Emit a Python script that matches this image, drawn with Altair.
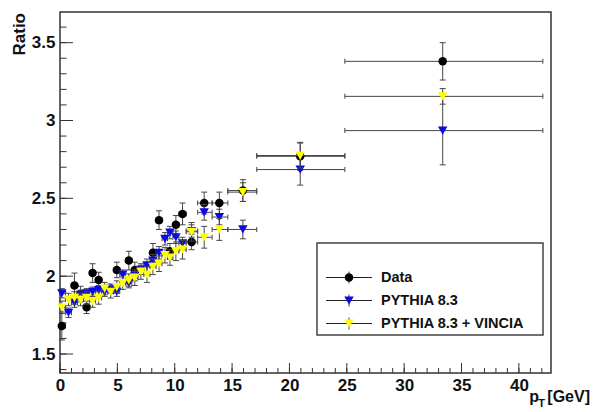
import altair as alt
import pandas as pd

# ---------------- data ----------------
pt = [0.16, 0.74, 1.26, 1.79, 2.32, 2.84, 3.37, 3.89, 4.42, 4.95, 5.47, 6.0,
      6.52, 7.05, 7.58, 8.10, 8.63, 9.15, 9.58, 10.10, 10.68, 11.47, 12.57,
      13.89, 15.94, 20.94, 33.36]
pt_lo = [0.0, 0.47, 1.0, 1.53, 2.05, 2.58, 3.10, 3.63, 4.16, 4.68, 5.21, 5.73,
         6.26, 6.79, 7.31, 7.84, 8.37, 8.89, 9.37, 9.84, 10.36, 11.0, 12.0,
         13.26, 14.63, 17.15, 24.83]
pt_hi = [0.47, 1.0, 1.53, 2.05, 2.58, 3.10, 3.63, 4.16, 4.68, 5.21, 5.73, 6.26,
         6.79, 7.31, 7.84, 8.37, 8.89, 9.37, 9.84, 10.36, 11.0, 12.0, 13.26,
         14.63, 17.15, 24.83, 42.09]

data_y = [1.68, None, 1.94, 1.885, 1.80, 2.02, 1.975, None, None, 2.04, None,
          2.10, 2.04, None, None, 2.15, 2.36, None, 2.16, 2.33, 2.40, 2.22,
          2.47, 2.47, 2.55, 2.77, 3.38]
data_err = [0.09, 0.05, 0.08, 0.05, 0.04, 0.06, 0.05, 0.05, 0.05, 0.05, 0.05,
            0.06, 0.05, 0.05, 0.05, 0.06, 0.06, 0.06, 0.05, 0.06, 0.07, 0.05,
            0.07, 0.07, 0.07, 0.09, 0.12]

py_y = [1.89, 1.765, 1.83, 1.88, 1.89, 1.90, 1.91, 1.90, 1.92, 1.90, 2.01,
        1.955, 2.00, 2.04, 2.07, 2.10, 2.15, 2.24, 2.28, 2.25, 2.21, 2.29,
        2.41, 2.38, 2.30, 2.685, 2.935]
py_err = [0.03, 0.03, 0.03, 0.03, 0.03, 0.03, 0.03, 0.03, 0.03, 0.03, 0.03,
          0.03, 0.03, 0.03, 0.04, 0.04, 0.04, 0.04, 0.04, 0.04, 0.04, 0.04,
          0.05, 0.05, 0.06, 0.10, 0.22]

vin_y = [1.80, 1.85, 1.86, 1.85, 1.86, 1.84, 1.86, 1.92, 1.90, 1.93, 1.955,
         1.975, 1.99, 2.03, 2.01, 2.06, 2.08, 2.135, 2.12, 2.16, 2.17, 2.285,
         2.25, 2.30, 2.54, 2.775, 3.155]
vin_err = [0.04, 0.04, 0.04, 0.04, 0.04, 0.04, 0.04, 0.04, 0.04, 0.04, 0.04,
           0.04, 0.05, 0.05, 0.05, 0.05, 0.05, 0.05, 0.05, 0.06, 0.06, 0.06,
           0.07, 0.07, 0.06, 0.08, 0.05]

series_names = ["Data", "PYTHIA 8.3", "PYTHIA 8.3 + VINCIA"]
series_vals = [data_y, py_y, vin_y]
series_errs = [data_err, py_err, vin_err]
series_colors = ["#000000", "#0a0ae6", "#ffff00"]
series_shapes = ["circle", "triangle-down", "triangle-down"]
series_sizes = [72, 90, 90]

x_major = [0, 5, 10, 15, 20, 25, 30, 35, 40]
x_minor = [0, 1, 2, 3, 4, 5, 6, 7, 8, 9, 10, 11, 12, 13, 14, 15, 16, 17, 18,
           19, 20, 21, 22, 23, 24, 25, 26, 27, 28, 29, 30, 31, 32, 33, 34, 35,
           36, 37, 38, 39, 40, 41, 42]
y_major = [1.5, 2.0, 2.5, 3.0, 3.5]
y_minor = [1.4, 1.5, 1.6, 1.7, 1.8, 1.9, 2.0, 2.1, 2.2, 2.3, 2.4, 2.5, 2.6,
           2.7, 2.8, 2.9, 3.0, 3.1, 3.2, 3.3, 3.4, 3.5, 3.6]

# ---------------- styling ----------------
FONT = "Liberation Sans"
FRAME = "#333333"
EB = "#474747"
W, H = 491, 361

xscale = alt.Scale(domain=[0, 42.8], nice=False, zero=False)
yscale = alt.Scale(domain=[1.378, 3.697], nice=False, zero=False)
xaxis = alt.Axis(values=x_major, title=None, ticks=False, domain=False, grid=False,
                 labelFont=FONT, labelFontSize=17, labelFontWeight="bold",
                 labelColor="#111111", labelPadding=4, labelFlush=False,
                 labelOverlap=False, format="~g")
yaxis = alt.Axis(values=y_major, title=None, ticks=False, domain=False, grid=False,
                 labelFont=FONT, labelFontSize=17, labelFontWeight="bold",
                 labelColor="#111111", labelPadding=5, labelFlush=False,
                 labelOverlap=False, format="~g")

X = lambda f: alt.X(f, scale=xscale, axis=xaxis)
Y = lambda f: alt.Y(f, scale=yscale, axis=yaxis)

layers = []

# axis ticks drawn inward (ROOT style)
for vals, ln in [(x_major, 10), (x_minor, 5)]:
    layers.append(alt.Chart(pd.DataFrame({"v": vals})).mark_rule(
        color=FRAME, strokeWidth=1).encode(
        x=X("v:Q"), y=alt.value(H), y2=alt.value(H - ln)))
for vals, ln in [(y_major, 13), (y_minor, 6.5)]:
    layers.append(alt.Chart(pd.DataFrame({"v": vals})).mark_rule(
        color=FRAME, strokeWidth=1).encode(
        y=Y("v:Q"), x=alt.value(0), x2=alt.value(ln)))

# data series
for name, vals, errs, col, shp, sz in zip(series_names, series_vals, series_errs,
                                          series_colors, series_shapes, series_sizes):
    df = pd.DataFrame({"pt": pt, "lo": pt_lo, "hi": pt_hi, "y": vals, "e": errs})
    df = df.dropna().copy()
    df["ylo"] = df["y"] - df["e"]
    df["yhi"] = df["y"] + df["e"]
    base = alt.Chart(df)
    layers.append(base.mark_rule(color=EB, strokeWidth=1).encode(
        x=X("lo:Q"), x2="hi:Q", y=Y("y:Q")))
    for f in ["lo", "hi"]:
        layers.append(base.mark_tick(orient="vertical", size=5, thickness=1,
                                     color=EB, opacity=1).encode(
            x=X(f + ":Q"), y=Y("y:Q")))
    layers.append(base.mark_rule(color=EB, strokeWidth=1).encode(
        x=X("pt:Q"), y=Y("ylo:Q"), y2="yhi:Q"))
    for f in ["ylo", "yhi"]:
        layers.append(base.mark_tick(orient="horizontal", size=6, thickness=1,
                                     color=EB, opacity=1).encode(
            x=X("pt:Q"), y=Y(f + ":Q")))
    layers.append(base.mark_point(shape=shp, filled=True, size=sz, color=col,
                                  opacity=1, strokeWidth=0).encode(
        x=X("pt:Q"), y=Y("y:Q")))

# axis titles
one = pd.DataFrame({"a": [0]})
layers.append(alt.Chart(one).mark_text(
    text="Ratio", font=FONT, fontSize=17, fontWeight="bold", color="#111111",
    angle=270, align="right", baseline="alphabetic").encode(
    x=alt.value(-35), y=alt.value(1)))
layers.append(alt.Chart(one).mark_text(
    text="[GeV]", font=FONT, fontSize=16, fontWeight="bold", color="#111111",
    align="right", baseline="alphabetic").encode(
    x=alt.value(530), y=alt.value(H + 29)))
layers.append(alt.Chart(one).mark_text(
    text="T", font=FONT, fontSize=11, fontWeight="bold", color="#111111",
    align="right", baseline="alphabetic").encode(
    x=alt.value(485), y=alt.value(H + 34)))
layers.append(alt.Chart(one).mark_text(
    text="p", font=FONT, fontSize=16, fontWeight="bold", color="#111111",
    align="right", baseline="alphabetic").encode(
    x=alt.value(479), y=alt.value(H + 29)))

# legend (ROOT TLegend style)
LX = 257
layers.append(alt.Chart(one).mark_rect(fill="white", stroke="#444444",
                                       strokeWidth=1.5).encode(
    x=alt.value(LX), x2=alt.value(483), y=alt.value(231), y2=alt.value(323)))
row_y = [265.5, 288.5, 311.5]
for name, col, shp, sz, ry in zip(series_names, series_colors, series_shapes,
                                  series_sizes, row_y):
    layers.append(alt.Chart(one).mark_rule(color="#222222", strokeWidth=1).encode(
        x=alt.value(LX + 9), x2=alt.value(LX + 55), y=alt.value(ry)))
    layers.append(alt.Chart(one).mark_rule(color="#444444", strokeWidth=1).encode(
        x=alt.value(LX + 32), y=alt.value(ry - 6), y2=alt.value(ry + 6)))
    layers.append(alt.Chart(one).mark_point(shape=shp, filled=True, size=sz,
                                            color=col, opacity=1,
                                            strokeWidth=0).encode(
        x=alt.value(LX + 32), y=alt.value(ry)))
    layers.append(alt.Chart(one).mark_text(
        text=name, font=FONT, fontSize=14.5, fontWeight="bold", color="#111111",
        align="left", baseline="middle").encode(
        x=alt.value(LX + 64), y=alt.value(ry)))

chart = alt.layer(*layers).properties(
    width=W, height=H,
    autosize=alt.AutoSizeParams(type="none"),
    padding={"left": 60, "top": 12, "right": 42, "bottom": 39},
    background="white",
).configure_view(stroke=FRAME, strokeWidth=1.5)

chart.save("out.html", embed_options={"renderer": "svg", "actions": False})
